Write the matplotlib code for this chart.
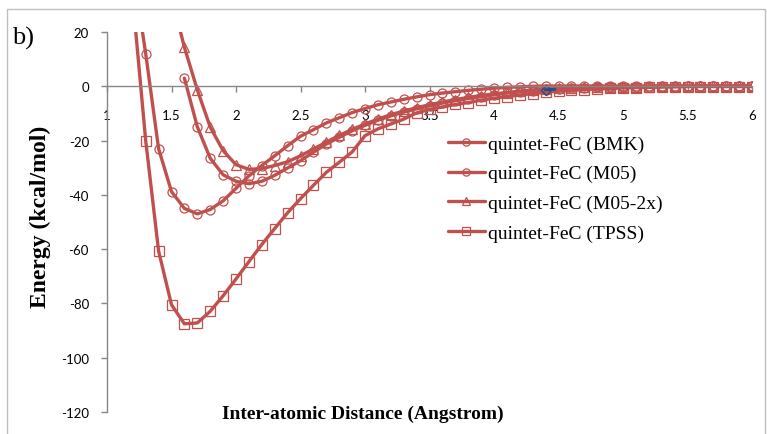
import matplotlib
matplotlib.use("Agg")
import matplotlib.pyplot as plt
from matplotlib.patches import Rectangle

# ---------------- data ----------------
x_bmk = [1.2, 1.3, 1.4, 1.5, 1.6, 1.7, 1.8, 1.9, 2.0, 2.1, 2.2, 2.3, 2.4, 2.5, 2.6, 2.7, 2.8, 2.9,
         3.0, 3.1, 3.2, 3.3, 3.4, 3.5, 3.6, 3.7, 3.8, 3.9, 4.0, 4.1, 4.2, 4.3, 4.4, 4.5, 4.6, 4.7,
         4.8, 4.9, 5.0, 5.1, 5.2, 5.3, 5.4, 5.5, 5.6, 5.7, 5.8, 5.9, 6.0]
y_bmk = [44, 12, -23, -38.8, -45, -47, -45.4, -42.2, -37.6, -33, -29.2, -25.6, -21.9, -18.4, -16,
         -13.5, -11.6, -9.7, -8.2, -6.8, -5.8, -4.8, -3.9, -3.1, -2.5, -2.0, -1.5, -1.1, -0.7,
         -0.4, -0.2, 0, 0.1, 0.1, 0.1, 0.1, 0.1, 0.1, 0.1, 0.1, 0.1, 0.1, 0.1, 0.1, 0.1, 0.1,
         0.1, 0.1, 0.1]

x_m05 = [1.6, 1.7, 1.8, 1.9, 2.0, 2.1, 2.2, 2.3, 2.4, 2.5, 2.6, 2.7, 2.8, 2.9, 3.0, 3.1, 3.2, 3.3,
         3.4, 3.5, 3.6, 3.7, 3.8, 3.9, 4.0, 4.1, 4.2, 4.3, 4.4, 4.5, 4.6, 4.7, 4.8, 4.9, 5.0, 5.1,
         5.2, 5.3, 5.4, 5.5, 5.6, 5.7, 5.8, 5.9, 6.0]
y_m05 = [3, -14.9, -26.5, -32.6, -35.0, -35.9, -35.0, -32.8, -30.1, -27.4, -24.3, -21.3, -18.8,
         -16.4, -14.4, -12.5, -10.9, -9.5, -8.3, -7.2, -6.2, -5.3, -4.5, -3.8, -3.1, -2.5, -2.0,
         -1.6, -1.2, -0.9, -0.7, -0.5, -0.4, -0.3, -0.2, -0.2, -0.1, -0.1, -0.1, 0, 0, 0, 0, 0, 0]

x_m052x = [1.5, 1.6, 1.7, 1.8, 1.9, 2.0, 2.1, 2.2, 2.3, 2.4, 2.5, 2.6, 2.7, 2.8, 2.9, 3.0, 3.1,
           3.2, 3.3, 3.4, 3.5, 3.6, 3.7, 3.8, 3.9, 4.0, 4.1, 4.2, 4.3, 4.4, 4.5, 4.6, 4.7, 4.8,
           4.9, 5.0, 5.1, 5.2, 5.3, 5.4, 5.5, 5.6, 5.7, 5.8, 5.9, 6.0]
y_m052x = [33, 14.4, -1.3, -15, -23.7, -28.9, -30.6, -30.3, -29.2, -27.8, -25.6, -23.1, -20.6,
           -18.1, -15.9, -13.9, -12.1, -10.5, -9.1, -7.9, -6.8, -5.8, -4.9, -4.1, -3.4, -2.8,
           -2.3, -1.8, -1.4, -1.1, -0.8, -0.6, -0.4, -0.3, -0.2, -0.1, -0.1, -0.1, 0, 0, 0, 0,
           0, 0, 0, 0]

x_tpss = [1.2, 1.3, 1.4, 1.5, 1.6, 1.7, 1.8, 1.9, 2.0, 2.1, 2.2, 2.3, 2.4, 2.5, 2.6, 2.7, 2.8,
          2.9, 3.0, 3.1, 3.2, 3.3, 3.4, 3.5, 3.6, 3.7, 3.8, 3.9, 4.0, 4.1, 4.2, 4.3, 4.4, 4.5,
          4.6, 4.7, 4.8, 4.9, 5.0, 5.1, 5.2, 5.3, 5.4, 5.5, 5.6, 5.7, 5.8, 5.9, 6.0]
y_tpss = [32, -20, -60.7, -80.5, -87.5, -87.2, -82.9, -77.2, -71, -64.6, -58.3, -52.4, -46.6,
          -41.4, -36.5, -31.7, -28, -24.2, -18.2, -15.7, -13.9, -12.1, -9.8, -8.5, -7.6, -6.7,
          -6.0, -5.1, -4.4, -3.8, -3.2, -2.7, -2.2, -1.8, -1.5, -1.2, -1.0, -0.8, -0.6, -0.5,
          -0.4, -0.3, -0.2, -0.1, -0.1, -0.1, -0.1, -0.1, -0.1]

x_extra = [4.4, 4.47]
y_extra = [-1.3, -1.1]

labels = ["quintet-FeC (BMK)", "quintet-FeC (M05)", "quintet-FeC (M05-2x)", "quintet-FeC (TPSS)"]
xticks = [1, 1.5, 2, 2.5, 3, 3.5, 4, 4.5, 5, 5.5, 6]
xticklabels = ["1", "1.5", "2", "2.5", "3", "3.5", "4", "4.5", "5", "5.5", "6"]
yticks = [20, 0, -20, -40, -60, -80, -100, -120]

# ---------------- style ----------------
RED = "#C0504D"
AXC = "#868686"
SERIF = ["Liberation Serif", "DejaVu Serif"]
SANS = ["Lato", "DejaVu Sans"]

W, H = 767, 435
fig = plt.figure(figsize=(W / 100, H / 100), dpi=100)

# chart-area border
fig.patches.append(Rectangle((7 / W, -0.05), (765 - 7) / W, (1 - 10 / H) + 0.05,
                             transform=fig.transFigure, fill=False,
                             edgecolor="#BFBFBF", lw=1.0))

ax = fig.add_axes([107 / W, 1 - 413 / H, (752 - 107) / W, (413 - 33) / H])
ax.set_xlim(1, 6)
ax.set_ylim(-120, 20)

series = [(x_bmk, y_bmk, "o"), (x_m05, y_m05, "o"), (x_m052x, y_m052x, "^"), (x_tpss, y_tpss, "s")]
for (xs, ys, m), lab in zip(series, labels):
    ax.plot(xs, ys, color=RED, lw=2.4, marker=m, markersize=6.5,
            markerfacecolor="none", markeredgecolor=RED, markeredgewidth=0.9, label=lab,
            solid_capstyle="round")

ax.plot(x_extra, y_extra, color="#1F4E8C", lw=2.0, marker="D", markersize=5,
        markerfacecolor="none", markeredgecolor="#1F4E8C", markeredgewidth=1.0,
        markevery=[0])

for s in ["top", "right"]:
    ax.spines[s].set_visible(False)
ax.spines["bottom"].set_position(("data", 0))
ax.spines["bottom"].set_color(AXC)
ax.spines["left"].set_color(AXC)
ax.spines["bottom"].set_linewidth(1.0)
ax.spines["left"].set_linewidth(1.0)

ax.set_xticks(xticks)
ax.set_xticklabels(xticklabels, family=SANS, fontsize=9.5)
ax.set_yticks(yticks)
ax.set_yticklabels([str(v) for v in yticks], family=SANS, fontsize=9.5)
ax.tick_params(axis="x", direction="out", length=4, width=1, color=AXC, pad=12)
ax.tick_params(axis="y", direction="out", length=4, width=1, color=AXC, pad=9)

fig.text(40 / W, 1 - 217 / H, "Energy (kcal/mol)", rotation=90, ha="center", va="center",
         family=SERIF, fontweight="bold", fontsize=17)
fig.text(363 / W, 1 - 414 / H, "Inter-atomic Distance (Angstrom)", ha="center", va="center",
         family=SERIF, fontweight="bold", fontsize=14)
fig.text(12 / W, 1 - 38 / H, "b)", ha="left", va="center", family=SERIF, fontsize=19)

leg = ax.legend(loc="upper left", bbox_to_anchor=(448 / W, 1 - 136 / H),
                bbox_transform=fig.transFigure, frameon=False,
                prop={"family": SERIF, "size": 14}, handlelength=1.9,
                handletextpad=0.15, labelspacing=0.62, borderpad=0, borderaxespad=0,
                markerscale=0.8)

fig.savefig("out.png", dpi=100)
